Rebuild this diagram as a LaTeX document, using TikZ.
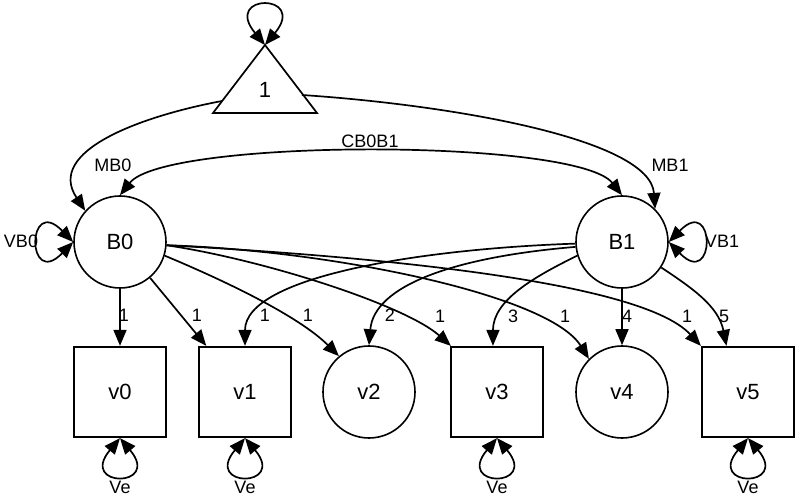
\documentclass[tikz,border=0pt]{standalone}
\usepackage{fontspec}
\setmainfont{Liberation Sans}
\usetikzlibrary{arrows.meta}
\begin{document}
\begin{tikzpicture}[x=1pt,y=-1pt,
  >={Triangle[length=16pt,width=13pt]},
  lat/.style={circle,draw,line width=1.6pt,minimum size=92pt,inner sep=0pt,font=\fontsize{22}{24}\selectfont},
  box/.style={rectangle,draw,line width=2.3pt,minimum width=92pt,minimum height=90pt,inner sep=0pt,font=\fontsize{22}{24}\selectfont},
  lbl/.style={inner sep=0pt,font=\fontsize{18}{20}\selectfont},
  pth/.style={->,line width=1.7pt},
  dbl/.style={<->,line width=1.7pt}]
  \useasboundingbox (0,0) rectangle (800,502);
  % constant
  \draw [line width=1.7pt] (265,45) coordinate (apex) -- (213,113) -- (317,113) -- cycle;
  \node [lbl,font=\fontsize{22}{24}\selectfont] (one) at (265,90) {1};
  \coordinate (mb0) at (222,101);
  \coordinate (mb1) at (302,95);
  % latent and manifest variables
  \node [lat] (B0) at (120,242) {B0};
  \node [lat] (B1) at (622,242) {B1};
  \node [box] (v0) at (120,392) {v0};
  \node [box] (v1) at (245,392) {v1};
  \node [lat] (v2) at (369,392) {v2};
  \node [box] (v3) at (497,392) {v3};
  \node [lat] (v4) at (622,392) {v4};
  \node [box] (v5) at (748,392) {v5};
  % means and covariance
  \draw [dbl] (apex) .. controls +(-43,-52) and +(43,-52) .. (apex);
  \draw [pth] (mb0) .. controls +(-80,15) and +(-40,-60) .. (B0.138);
  \draw [pth] (mb1) .. controls +(150,10) and +(-5,-70) .. (B1.45);
  \draw [dbl] (B0.north) .. controls +(45,-57) and +(-45,-57) .. (B1.north);
  \draw [dbl] (B0.west) .. controls +(-47,-48) and +(-47,48) .. (B0.west);
  \draw [dbl] (B1.east) .. controls +(47,-48) and +(47,48) .. (B1.east);
  \node [lbl] (lmb0) at (113,165) {MB0};
  \node [lbl] (lmb1) at (670,165) {MB1};
  \node [lbl] (lcb) at (370,141) {CB0B1};
  \node [lbl] (lvb0) at (21,241) {VB0};
  \node [lbl] (lvb1) at (722,241) {VB1};
  % loadings of B0
  \draw [pth] (B0) -- (v0);
  \draw [pth] (B0.-50) -- (v1.130);
  \draw [pth] (B0.-17) .. controls +(60,25) and +(-40,-40) .. (v2.130);
  \draw [pth] (B0.-4) .. controls +(100,15) and +(-45,-40) .. (v3.135);
  \draw [pth] (B0.-4) .. controls +(165,5) and +(-40,-64) .. (v4.135);
  \draw [pth] (B0.-4) .. controls +(185,10) and +(-62,-67) .. (v5.north west);
  % loadings of B1
  \draw [pth] (B1.182) .. controls +(-150,5) and +(0,-70) .. (v1.north);
  \draw [pth] (B1.186) .. controls +(-120,10) and +(5,-60) .. (v2.north);
  \draw [pth] (B1.197) .. controls +(-45,22) and +(0,-45) .. (v3.95);
  \draw [pth] (B1) -- (v4);
  \draw [pth] (B1.-33) .. controls +(30,20) and +(-8,-40) .. (v5.115);
  \node [lbl] (l00) at (124,315) {1};
  \node [lbl] (l01) at (197,315) {1};
  \node [lbl] (l11) at (265,315) {1};
  \node [lbl] (l02) at (308,315) {1};
  \node [lbl] (l12) at (390,315) {2};
  \node [lbl] (l03) at (440,316) {1};
  \node [lbl] (l13) at (513,316) {3};
  \node [lbl] (l04) at (565,316) {1};
  \node [lbl] (l14) at (627,316) {4};
  \node [lbl] (l05) at (687,316) {1};
  \node [lbl] (l15) at (724,316) {5};
  % residual variances
  \foreach \v in {v0,v1,v3,v5} {
    \draw [dbl] (\v.south) .. controls +(-42,50) and +(42,50) .. (\v.south);
    \node [lbl,below=43pt] (ve\v) at (\v.south) {Ve};
  }
\end{tikzpicture}
\end{document}
